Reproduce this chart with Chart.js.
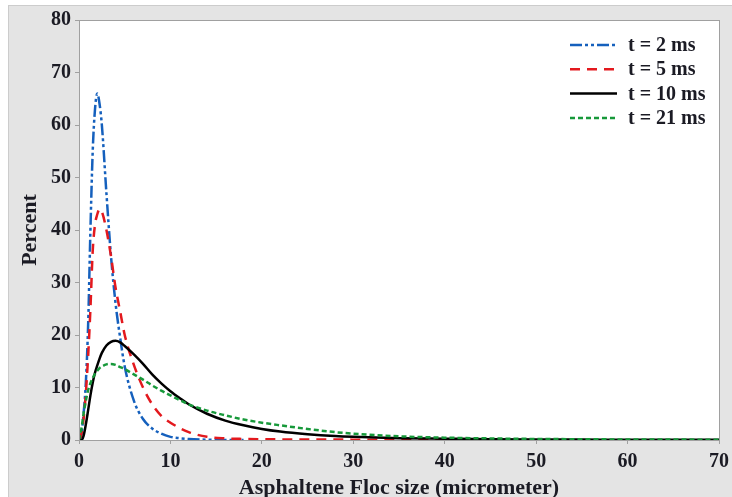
<!doctype html>
<html lang="en">

<head>
  <meta charset="utf-8">
  <title>Asphaltene Floc size</title>
  <style>
    * {
      margin: 0;
      padding: 0;
    }

    body {
      background: #fff;
    }

    .chart-container {
      position: relative;
      width: 732px;
      height: 497px;
    }
  </style>
</head>

<body>
  <div class="chart-container">
    <canvas id="myChart"></canvas>
  </div>

  <script src="https://cdn.jsdelivr.net/npm/chart.js"></script>

  <script>
    // floc size (micrometer) and percent per time step
    const sizes = [0, 0.25, 0.5, 0.75, 1, 1.25, 1.5, 1.75, 2, 2.25, 2.5, 3, 3.5, 4, 4.5, 5, 6, 7, 8, 9, 10, 11, 12, 14, 16, 18, 20, 22, 25, 28, 30, 35, 40, 45, 50, 55, 60, 65, 70];
    const t2 = [0, 1, 5, 11, 22, 40, 55, 63, 66, 64, 60, 47, 35, 26, 19.5, 14, 7.5, 4, 2.2, 1.2, 0.6, 0.35, 0.2, 0.05, 0, 0, null, null, null, null, null, null, null, null, null, null, null, null, null];
    const t5 = [0, 1, 4, 9, 16, 25, 36, 41, 43, 44, 43.5, 40, 35, 29, 24.5, 20, 14.3, 10, 6.8, 4.6, 3.3, 2.3, 1.5, 0.6, 0.3, 0.2, 0.15, 0.12, 0.1, 0.08, 0.07, 0.05, 0.02, null, null, null, null, null, null];
    const t10 = [0, 0, 0.8, 3, 5.7, 8.5, 10.9, 12.8, 14.2, 15.5, 16.6, 18, 18.7, 18.9, 18.6, 17.9, 16.3, 14.5, 12.5, 10.8, 9.3, 8, 6.8, 5, 3.7, 2.8, 2.1, 1.6, 1.1, 0.75, 0.6, 0.35, 0.25, 0.15, 0.1, 0.08, 0.05, 0.04, 0.03];
    const t21 = [0, 2, 5, 7.5, 9.5, 10.8, 11.8, 12.6, 13.2, 13.7, 14, 14.4, 14.5, 14.3, 13.9, 13.5, 12.5, 11.5, 10.4, 9.4, 8.5, 7.6, 6.8, 5.6, 4.7, 3.9, 3.3, 2.8, 2.1, 1.5, 1.2, 0.7, 0.45, 0.3, 0.2, 0.15, 0.1, 0.08, 0.06];
    const seriesLabels = ['t = 2 ms', 't = 5 ms', 't = 10 ms', 't = 21 ms'];
    const xTicks = [0, 10, 20, 30, 40, 50, 60, 70];
    const yTicks = [0, 10, 20, 30, 40, 50, 60, 70, 80];

    const toPoints = vals => sizes.map((s, i) => ({ x: s, y: vals[i] }));

    const textColor = '#1b1b24';
    const axisGray = '#a0a0a0';
    const serif = "'Liberation Serif', 'Times New Roman', serif";

    const data = {
      datasets: [{
        label: seriesLabels[0],
        data: toPoints(t2),
        borderColor: '#1560bd',
        borderDash: [12, 3, 3, 3, 3, 3],
        order: 3
      }, {
        label: seriesLabels[1],
        data: toPoints(t5),
        borderColor: '#e3191e',
        borderDash: [10, 7],
        order: 2
      }, {
        label: seriesLabels[2],
        data: toPoints(t10),
        borderColor: '#000000',
        borderDash: [],
        order: 1
      }, {
        label: seriesLabels[3],
        data: toPoints(t21),
        borderColor: '#17993a',
        borderDash: [5, 3],
        order: 0
      }]
    };

    // grey frame behind everything, white plot area with a thin border
    const framePlugin = {
      id: 'frame',
      beforeDraw(chart) {
        const { ctx, width, height, chartArea: a } = chart;
        ctx.save();
        ctx.fillStyle = '#ffffff';
        ctx.fillRect(0, 0, width, height);
        ctx.fillStyle = '#e4e4e4';
        ctx.fillRect(8, 5, width - 8, height - 5);
        ctx.strokeStyle = '#cccccc';
        ctx.lineWidth = 1;
        ctx.strokeRect(8.5, 5.5, width - 8, height - 5);
        ctx.fillStyle = '#ffffff';
        ctx.fillRect(a.left, a.top, a.right - a.left, a.bottom - a.top);
        ctx.restore();
      },
      afterDraw(chart) {
        const { ctx, chartArea: a } = chart;
        ctx.save();
        ctx.strokeStyle = axisGray;
        ctx.lineWidth = 1;
        ctx.strokeRect(a.left + 0.5, a.top + 0.5, a.right - a.left, a.bottom - a.top);
        ctx.restore();
      }
    };

    // legend drawn inside the plot, top right
    const legendPlugin = {
      id: 'insideLegend',
      afterDraw(chart) {
        const { ctx, chartArea: a } = chart;
        const x0 = a.right - 149;
        ctx.save();
        ctx.font = 'bold 20px ' + serif;
        ctx.textBaseline = 'middle';
        chart.data.datasets.forEach((ds, i) => {
          const y = a.top + 25 + i * 24.3;
          ctx.beginPath();
          ctx.strokeStyle = ds.borderColor;
          ctx.lineWidth = 2.5;
          ctx.setLineDash(ds.borderDash);
          ctx.moveTo(x0, y);
          ctx.lineTo(x0 + 47, y);
          ctx.stroke();
          ctx.setLineDash([]);
          ctx.fillStyle = textColor;
          ctx.fillText(ds.label, x0 + 58, y + 1);
        });
        ctx.restore();
      }
    };

    const config = {
      type: 'line',
      data,
      options: {
        responsive: true,
        maintainAspectRatio: false,
        animation: false,
        layout: {
          padding: { left: 8, top: 20, right: 13, bottom: 0 }
        },
        elements: {
          line: {
            borderWidth: 2.5,
            cubicInterpolationMode: 'monotone',
            fill: false
          },
          point: { radius: 0 }
        },
        plugins: {
          legend: { display: false },
          tooltip: { enabled: false }
        },
        scales: {
          x: {
            type: 'linear',
            min: 0,
            max: 70,
            afterFit(scale) {
              scale.height = 57;
              scale.paddingLeft = 0;
              scale.paddingRight = 0;
            },
            afterBuildTicks(scale) { scale.ticks = xTicks.map(v => ({ value: v })); },
            grid: { drawOnChartArea: false, tickLength: 4, color: axisGray },
            border: { color: axisGray },
            ticks: {
              color: textColor,
              padding: 6,
              maxRotation: 0,
              font: { family: serif, size: 20, weight: 'bold' }
            },
            title: {
              display: true,
              text: 'Asphaltene Floc size (micrometer)',
              color: textColor,
              padding: { top: 0, bottom: -2 },
              font: { family: serif, size: 22, weight: 'bold', lineHeight: 1 }
            }
          },
          y: {
            min: 0,
            max: 80,
            afterFit(scale) { scale.width = 71; },
            afterBuildTicks(scale) { scale.ticks = yTicks.map(v => ({ value: v })); },
            grid: { drawOnChartArea: false, tickLength: 4, color: axisGray },
            border: { color: axisGray },
            ticks: {
              color: textColor,
              padding: 4,
              font: { family: serif, size: 20, weight: 'bold' }
            },
            title: {
              display: true,
              text: 'Percent',
              color: textColor,
              padding: { top: 11, bottom: 0 },
              font: { family: serif, size: 22, weight: 'bold', lineHeight: 1 }
            }
          }
        }
      },
      plugins: [framePlugin, legendPlugin]
    };

    const myChart = new Chart(
      document.getElementById('myChart'),
      config
    );
  </script>
</body>

</html>
